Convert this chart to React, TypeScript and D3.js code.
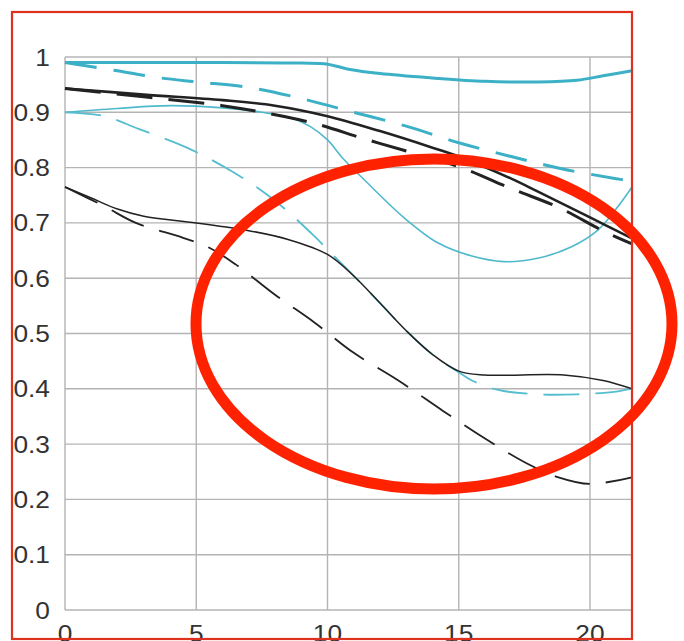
import React, { useEffect, useRef } from "react";
import * as d3 from "d3";

// MTF curves: [image height (mm), contrast]
const cyanSolidTop: [number, number][] = [
  [0, 0.99], [5, 0.99], [9, 0.989], [10, 0.987], [10.8, 0.978], [12, 0.97],
  [14, 0.962], [16, 0.956], [18, 0.955], [19.5, 0.958], [20.5, 0.966], [21.6, 0.975],
];
const cyanDashTop: [number, number][] = [
  [0, 0.99], [2, 0.975], [3.5, 0.963], [5, 0.955], [7, 0.945], [9, 0.925],
  [11, 0.9], [13, 0.875], [15, 0.845], [17, 0.82], [19, 0.797], [21, 0.78], [21.6, 0.775],
];
const blackSolidThick: [number, number][] = [
  [0, 0.943], [3, 0.932], [6, 0.922], [8, 0.912], [10, 0.893], [12, 0.866],
  [14, 0.836], [15, 0.82], [17, 0.78], [18, 0.757], [20, 0.71], [21.6, 0.672],
];
const blackDashThick: [number, number][] = [
  [0, 0.943], [3, 0.928], [6, 0.912], [7.5, 0.9], [9.5, 0.88], [11.4, 0.852],
  [13.3, 0.826], [15.1, 0.8], [17, 0.762], [18.8, 0.728], [20.6, 0.683], [21.6, 0.662],
];
const cyanSolidLow: [number, number][] = [
  [0, 0.9], [2, 0.907], [4, 0.912], [6, 0.908], [7.5, 0.9], [8.6, 0.89],
  [9.35, 0.874], [10, 0.85], [10.6, 0.816], [11.4, 0.778], [12.9, 0.71],
  [14.2, 0.664], [15.5, 0.64], [16.7, 0.63], [18, 0.636], [19.3, 0.657],
  [20.3, 0.687], [21.07, 0.73], [21.6, 0.765],
];
const cyanDashLow: [number, number][] = [
  [0, 0.9], [1.5, 0.893], [2.8, 0.87], [4.6, 0.837], [6.4, 0.792], [8, 0.74],
  [9.5, 0.676], [10, 0.652], [11, 0.604], [12, 0.555], [13, 0.505], [14, 0.462],
  [15, 0.43], [15.5, 0.415], [16.5, 0.398], [18, 0.39], [19.5, 0.39], [21, 0.395], [21.6, 0.4],
];
const blackSolidThin: [number, number][] = [
  [0, 0.765], [1, 0.745], [2, 0.725], [3, 0.712], [5, 0.7], [7, 0.686],
  [8.5, 0.67], [10, 0.643], [11, 0.604], [12, 0.555], [13, 0.505], [14, 0.462],
  [15, 0.432], [16, 0.425], [19, 0.425], [20.5, 0.415], [21.6, 0.4],
];
const blackDashThin: [number, number][] = [
  [0, 0.765], [1.5, 0.73], [2.7, 0.7], [4.5, 0.673], [5.5, 0.655], [6.5, 0.625],
  [8, 0.57], [9.5, 0.52], [11, 0.465], [12.7, 0.415], [14.4, 0.36], [16, 0.31],
  [17.6, 0.265], [18.8, 0.24], [20, 0.228], [21.6, 0.24],
];

const xTicks = [0, 5, 10, 15, 20];
const yTicks = [0, 0.1, 0.2, 0.3, 0.4, 0.5, 0.6, 0.7, 0.8, 0.9, 1];
const yLabels = ["0", "0.1", "0.2", "0.3", "0.4", "0.5", "0.6", "0.7", "0.8", "0.9", "1"];

const W = 684;
const H = 641;

export default function App() {
  const ref = useRef<SVGSVGElement>(null);

  useEffect(() => {
    document.body.style.margin = "0";
    const svg = d3.select(ref.current);
    svg.selectAll("*").remove();

    const x = d3.scaleLinear().domain([0, 21.6]).range([65, 632]);
    const y = d3.scaleLinear().domain([0, 1]).range([610, 57]);

    svg.append("rect").attr("width", W).attr("height", H).attr("fill", "#fff");

    // grid
    const grid = svg.append("g").attr("stroke", "#b4b4b4").attr("stroke-width", 1.4);
    grid.selectAll(".h").data(yTicks).enter().append("line")
      .attr("x1", x(0)).attr("x2", x(21.6))
      .attr("y1", (d) => y(d)).attr("y2", (d) => y(d));
    grid.selectAll(".v").data(xTicks).enter().append("line")
      .attr("x1", (d) => x(d)).attr("x2", (d) => x(d))
      .attr("y1", y(0)).attr("y2", y(1));

    const line = d3.line<[number, number]>()
      .x((d) => x(d[0])).y((d) => y(d[1]))
      .curve(d3.curveCatmullRom.alpha(0.5));

    const draw = (data: [number, number][], color: string, width: number, dash?: string) => {
      svg.append("path").datum(data)
        .attr("d", line)
        .attr("fill", "none")
        .attr("stroke", color)
        .attr("stroke-width", width)
        .attr("stroke-dasharray", dash || null);
    };

    draw(cyanSolidLow, "#4fb9cc", 1.6);
    draw(cyanDashLow, "#55bdd0", 1.8, "36 16");
    draw(blackSolidThin, "#222", 1.5);
    draw(blackDashThin, "#222", 1.8, "36 16");
    draw(cyanSolidTop, "#3cb0c6", 3);
    draw(cyanDashTop, "#3cb0c6", 3, "32 17");
    draw(blackDashThick, "#222", 3, "36 16");
    draw(blackSolidThick, "#222", 2.6);

    // tick labels (the x labels run off the bottom edge, as in the source image)
    const font = "'Liberation Sans', Arial, sans-serif";
    svg.selectAll(".yl").data(yTicks).enter().append("text")
      .attr("transform", (d) => `translate(50,${y(d) + 8.5}) scale(1.12,1)`)
      .attr("text-anchor", "end")
      .attr("font-family", font)
      .attr("font-size", 23.5)
      .attr("fill", "#333")
      .text((d, i) => yLabels[i]);
    svg.selectAll(".xl").data(xTicks).enter().append("text")
      .attr("transform", (d) => `translate(${x(d)},642) scale(1.12,1)`)
      .attr("text-anchor", "middle")
      .attr("font-family", font)
      .attr("font-size", 23.5)
      .attr("fill", "#333")
      .text((d) => String(d));

    // outer red frame
    svg.append("rect")
      .attr("x", 12).attr("y", 12).attr("width", 620).attr("height", 627)
      .attr("fill", "none").attr("stroke", "#e0301e").attr("stroke-width", 2.2);

    // highlight ellipse
    svg.append("ellipse")
      .attr("cx", 434).attr("cy", 324).attr("rx", 238).attr("ry", 165)
      .attr("fill", "none").attr("stroke", "#ff2200").attr("stroke-width", 11);
  }, []);

  return <svg ref={ref} width={W} height={H} style={{ display: "block" }} />;
}
